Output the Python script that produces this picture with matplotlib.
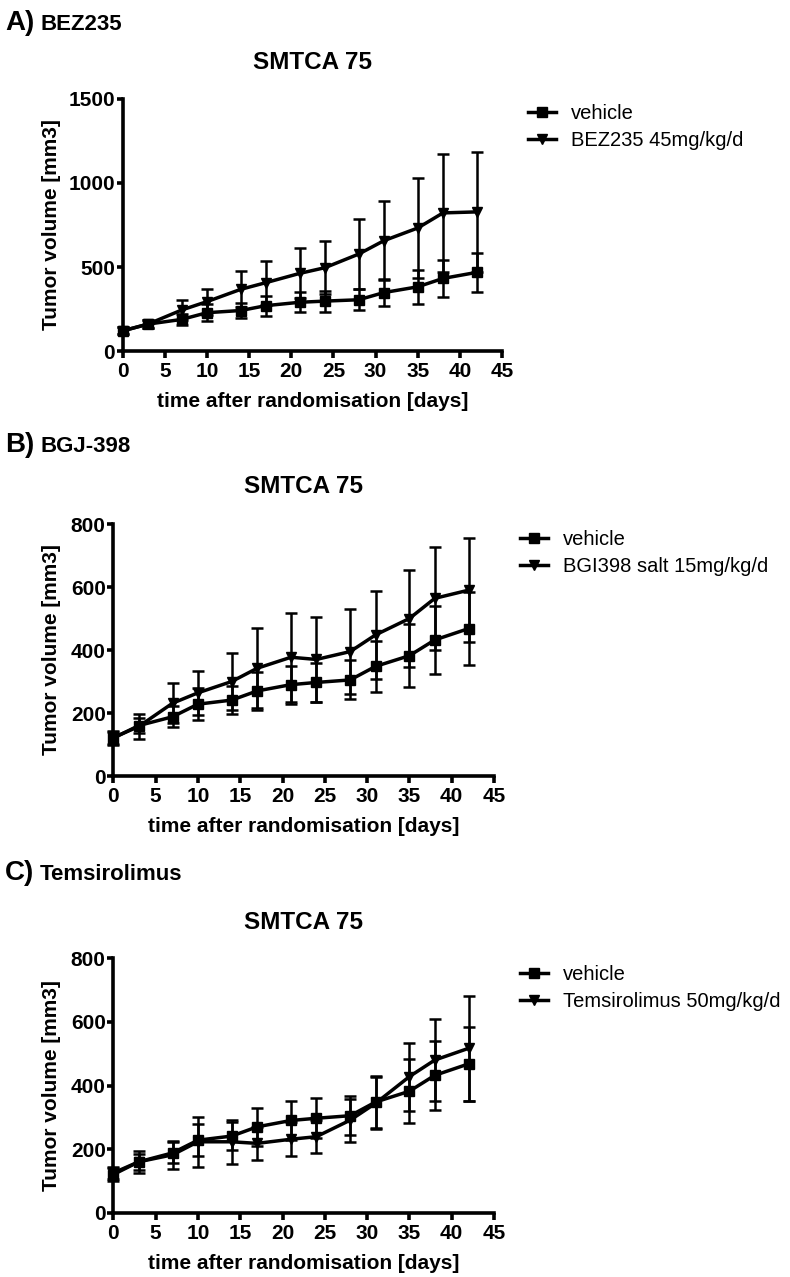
import matplotlib
matplotlib.use("Agg")
import matplotlib.pyplot as plt
import numpy as np

plt.rcParams['font.family'] = ['Liberation Sans', 'DejaVu Sans']

days = [0, 3, 7, 10, 14, 17, 21, 24, 28, 31, 35, 38, 42]

vehicle_mean = [120, 160, 188, 228, 241, 270, 290, 297, 305, 348, 382, 432, 468]
vehicle_sd = [20, 25, 33, 50, 45, 60, 60, 63, 62, 82, 100, 108, 116]

bez_mean = [120, 160, 244, 294, 367, 407, 462, 496, 577, 657, 732, 822, 828]
bez_sd = [20, 25, 60, 77, 107, 131, 149, 157, 207, 234, 300, 349, 355]

bgj_mean = [122, 157, 231, 264, 300, 342, 377, 370, 395, 448, 500, 564, 590]
bgj_sd = [20, 40, 63, 70, 92, 127, 142, 136, 135, 140, 154, 163, 165]

tem_mean = [125, 160, 182, 223, 223, 218, 231, 239, 291, 344, 428, 480, 517]
tem_sd = [20, 34, 45, 78, 70, 52, 53, 52, 68, 82, 107, 128, 166]

panels = [
    dict(letter="A)", drug="BEZ235", label="BEZ235 45mg/kg/d", mean=bez_mean, sd=bez_sd,
         ymax=1500, yticks=[0, 500, 1000, 1500], ypad=5),
    dict(letter="B)", drug="BGJ-398", label="BGI398 salt 15mg/kg/d", mean=bgj_mean, sd=bgj_sd,
         ymax=800, yticks=[0, 200, 400, 600, 800], ypad=7),
    dict(letter="C)", drug="Temsirolimus", label="Temsirolimus 50mg/kg/d", mean=tem_mean, sd=tem_sd,
         ymax=800, yticks=[0, 200, 400, 600, 800], ypad=7),
]

W, H = 790, 1277
fig = plt.figure(figsize=(W / 100, H / 100), dpi=100)

# pixel geometry: (x0, x45, y_top, y_zero)
geom = [
    (122.7, 502.0, 99.0, 351.0),
    (113.3, 494.0, 524.0, 776.0),
    (113.3, 494.0, 958.3, 1212.7),
]
label_base = [29.5, 451.7, 880.0]
title_base = [69.3, 492.7, 929.3]
legend_pos = [(528, 104), (520, 530), (520, 965)]

for p, g, lb, tb, lp in zip(panels, geom, label_base, title_base, legend_pos):
    x0, x1, yt, y0 = g
    ax = fig.add_axes([x0 / W, 1 - y0 / H, (x1 - x0) / W, (y0 - yt) / H])
    ev = ax.errorbar(days, vehicle_mean, yerr=vehicle_sd, color='black', lw=2.5,
                     marker='s', ms=7.8, elinewidth=1.8, capsize=4.5, capthick=1.8,
                     clip_on=False, zorder=3)
    et = ax.errorbar(days, p['mean'], yerr=p['sd'], color='black', lw=2.5,
                     marker='v', ms=7.8, elinewidth=1.8, capsize=4.5, capthick=1.8,
                     clip_on=False, zorder=3)
    for c in (ev, et):
        for art in c.lines[1] + c.lines[2]:
            art.set_clip_on(False)
    ax.set_xlim(0, 45)
    ax.set_ylim(0, p['ymax'])
    ax.set_xticks(range(0, 46, 5))
    ax.set_yticks(p['yticks'])
    for s in ['top', 'right']:
        ax.spines[s].set_visible(False)
    for s in ['left', 'bottom']:
        ax.spines[s].set_linewidth(2.6)
    ax.tick_params(axis='x', length=5, width=2.6, pad=3, labelsize=15)
    ax.tick_params(axis='y', length=4, width=2.6, pad=1.5, labelsize=15)
    for t in ax.get_xticklabels() + ax.get_yticklabels():
        t.set_fontweight('bold')
    ax.set_xlabel("time after randomisation [days]", fontsize=15, fontweight='bold', labelpad=8)
    ax.set_ylabel("Tumor volume [mm3]", fontsize=15, fontweight='bold', labelpad=p['ypad'])

    fig.text((x0 + x1) / 2 / W, 1 - tb / H, "SMTCA 75", fontsize=17.5,
             fontweight='bold', ha='center', va='baseline')
    fig.text(5 / W, 1 - lb / H, p['letter'], fontsize=20, fontweight='bold', va='baseline')
    fig.text(40 / W, 1 - lb / H, p['drug'], fontsize=16, fontweight='bold', va='baseline')

    ax.legend([ev.lines[0], et.lines[0]], ["vehicle", p['label']],
              loc='upper left', bbox_to_anchor=(lp[0] / W, 1 - lp[1] / H),
              bbox_transform=fig.transFigure, frameon=False, fontsize=14.5,
              handlelength=1.4, handletextpad=0.75, labelspacing=0.42,
              borderaxespad=0, borderpad=0, markerscale=0.85)

fig.savefig("out.png", dpi=100)
